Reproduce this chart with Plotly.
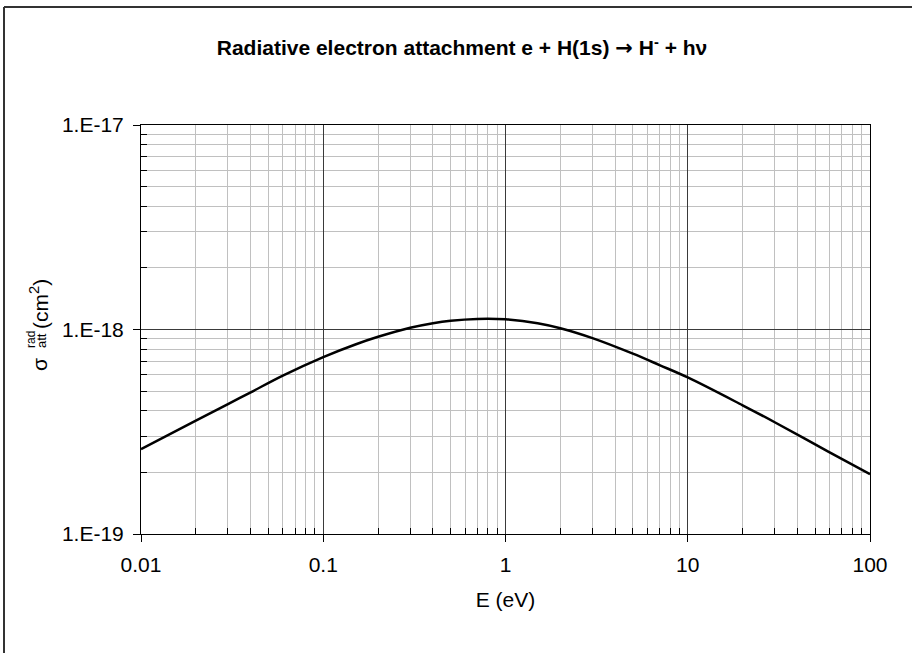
import plotly.graph_objects as go

# Data
energy_eV = [0.01, 0.02, 0.03, 0.04, 0.06, 0.1, 0.15, 0.2, 0.3, 0.4, 0.5,
             0.7, 1.0, 1.5, 2, 3, 5, 7, 10, 20, 30, 59, 100]
sigma_cm2 = [2.60e-19, 3.58e-19, 4.32e-19, 4.93e-19, 5.95e-19, 7.33e-19,
             8.45e-19, 9.21e-19, 1.02e-18, 1.074e-18, 1.104e-18,
             1.127e-18, 1.122e-18, 1.074e-18, 1.015e-18, 9.08e-19,
             7.62e-19, 6.70e-19, 5.83e-19, 4.26e-19, 3.52e-19, 2.53e-19,
             1.96e-19]

x_tickvals = [0.01, 0.1, 1, 10, 100]
x_ticktext = ["0.01", "0.1", "1", "10", "100"]
y_tickvals = [1e-19, 1e-18, 1e-17]
y_ticktext = ["1.E-19", "1.E-18", "1.E-17"]

title_text = ("Radiative electron attachment e + H(1s) "
              "<span style='font-family:DejaVu Sans'>→</span> H<sup>-</sup> + hν")
x_title = "E (eV)"

FONT = "Arial, Liberation Sans, sans-serif"

x_minor = [m * d for d in [0.01, 0.1, 1, 10] for m in range(2, 10)]
y_minor = [m * d for d in [1e-19, 1e-18] for m in range(2, 10)]

W, H = 912, 653
L, R, T, B = 141, 42, 125, 119
pw, ph = W - L - R, H - T - B


def px(x):
    return (x - L) / pw


def py(y):
    return (H - B - y) / ph


fig = go.Figure()
fig.add_trace(go.Scatter(
    x=energy_eV, y=sigma_cm2, mode="lines",
    line=dict(color="black", width=2.5, shape="spline", smoothing=1.0),
    showlegend=False, hoverinfo="x+y",
))

axis_common = dict(
    type="log",
    showline=True, linecolor="black", linewidth=1, mirror=True,
    ticks="outside", ticklen=7, tickcolor="black", tickwidth=1,
    showgrid=True, gridcolor="#3a3a3a", gridwidth=1,
    zeroline=False,
    tickfont=dict(family=FONT, size=21, color="black"),
)

fig.update_xaxes(
    **axis_common,
    range=[-2, 2],
    tickmode="array", tickvals=x_tickvals, ticktext=x_ticktext,
    ticklabelstandoff=5,
    minor=dict(tickmode="array", tickvals=x_minor, ticks="inside", ticklen=6,
               tickcolor="black", showgrid=True, gridcolor="#c0c0c0", gridwidth=1),
    title=dict(text=x_title, font=dict(family=FONT, size=21, color="black"), standoff=17),
)
fig.update_yaxes(
    **axis_common,
    range=[-19, -17],
    tickmode="array", tickvals=y_tickvals, ticktext=y_ticktext,
    ticklabelstandoff=5,
    minor=dict(tickmode="array", tickvals=y_minor, ticks="inside", ticklen=6,
               tickcolor="black", showgrid=True, gridcolor="#c0c0c0", gridwidth=1),
)

annotations = [
    dict(text="σ", x=px(39), y=py(365), font=dict(family=FONT, size=21, color="black")),
    dict(text="rad", x=px(31), y=py(340), font=dict(family=FONT, size=12, color="black")),
    dict(text="att", x=px(41), y=py(341), font=dict(family=FONT, size=13, color="black")),
    dict(text="(cm<sup>2</sup>)", x=px(39), y=py(304), font=dict(family=FONT, size=21, color="black")),
]
for a in annotations:
    a.update(xref="paper", yref="paper", showarrow=False, textangle=-90,
             xanchor="center", yanchor="middle")

shapes = [
    dict(type="line", xref="paper", yref="paper", x0=px(4), x1=px(4), y0=py(7), y1=py(660),
         line=dict(color="#333333", width=2)),
    dict(type="line", xref="paper", yref="paper", x0=px(4), x1=px(920), y0=py(7), y1=py(7),
         line=dict(color="#333333", width=2)),
]

fig.update_layout(
    width=W, height=H,
    margin=dict(l=L, r=R, t=T, b=B),
    paper_bgcolor="white", plot_bgcolor="white",
    title=dict(text="<b>" + title_text + "</b>", xref="container", x=462 / W,
               xanchor="center", yref="container", y=1 - 48 / H, yanchor="middle",
               font=dict(family=FONT, size=21, color="black")),
    annotations=annotations,
    shapes=shapes,
)

fig.write_html("out.html", config={"displayModeBar": False},
               post_script="document.body.style.margin='0px';")
